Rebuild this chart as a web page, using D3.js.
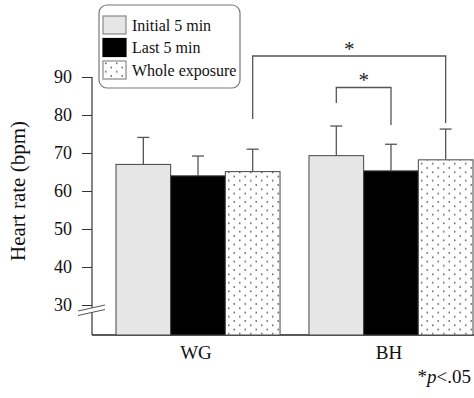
<!DOCTYPE html>
<html>
<head>
<meta charset="utf-8">
<script src="https://cdn.jsdelivr.net/npm/d3@7"></script>
<style>
  body { margin: 0; background: #fff; }
  svg { display: block; }
</style>
</head>
<body>
<svg id="chart" width="474" height="398"></svg>
<script>
// data
var groups = ["WG", "BH"];
var series = ["Initial 5 min", "Last 5 min", "Whole exposure"];
var meanWG = [67.0, 64.0, 65.1];
var meanBH = [69.3, 65.3, 68.2];
var sdWG = [7.1, 5.2, 5.9];
var sdBH = [7.8, 7.0, 8.1];
var yTicks = [30, 40, 50, 60, 70, 80, 90];

var data = [
  { group: "WG", values: meanWG, sd: sdWG },
  { group: "BH", values: meanBH, sd: sdBH }
];

var serif = "Liberation Serif";
var svg = d3.select("#chart").style("font-family", serif);

// pattern for the dotted series
var defs = svg.append("defs");
var pat = defs.append("pattern")
  .attr("id", "dots")
  .attr("patternUnits", "userSpaceOnUse")
  .attr("width", 11).attr("height", 8.5);
pat.append("rect").attr("width", 11).attr("height", 8.5).attr("fill", "#fff");
pat.append("rect").attr("x", 2).attr("y", 1.5).attr("width", 1.5).attr("height", 1.5).attr("fill", "#555");
pat.append("rect").attr("x", 7.5).attr("y", 5.75).attr("width", 1.5).attr("height", 1.5).attr("fill", "#555");

var fills = ["#e6e6e6", "#000", "url(#dots)"];

// scales
var y = d3.scaleLinear().domain([30, 90]).range([305, 77]);
var baseY = 335;
var x = d3.scaleBand().domain(groups).range([116, 473]).paddingInner(0.15).paddingOuter(0);
var xSub = d3.scaleBand().domain(series).range([0, x.bandwidth()]);

// y axis
var axisX = 92;
var yAxis = svg.append("g")
  .attr("transform", "translate(" + axisX + ",0)")
  .call(d3.axisLeft(y).tickValues(yTicks).tickSize(10).tickPadding(10).tickSizeOuter(0));
yAxis.select(".domain").remove();
yAxis.selectAll("line").attr("stroke", "#333");
yAxis.selectAll("text")
  .style("font-family", serif)
  .style("font-size", "18px").attr("fill", "#111");

svg.append("line")
  .attr("x1", axisX).attr("x2", axisX)
  .attr("y1", y(90)).attr("y2", baseY)
  .attr("stroke", "#333").attr("stroke-width", 1.2);

// axis break
svg.append("polygon")
  .attr("points", "78,311 105,305 105,309.5 78,315.5")
  .attr("fill", "#fff");
svg.append("line").attr("x1", 78).attr("y1", 311).attr("x2", 105).attr("y2", 305)
  .attr("stroke", "#555").attr("stroke-width", 1);
svg.append("line").attr("x1", 78).attr("y1", 315.5).attr("x2", 105).attr("y2", 309.5)
  .attr("stroke", "#555").attr("stroke-width", 1);

// baseline
svg.append("line")
  .attr("x1", axisX).attr("x2", 474)
  .attr("y1", baseY).attr("y2", baseY)
  .attr("stroke", "#222").attr("stroke-width", 1.5);

// bars
var gGroups = svg.append("g").selectAll("g")
  .data(data).enter().append("g")
  .attr("transform", function (d) { return "translate(" + x(d.group) + ",0)"; });

var cells = gGroups.selectAll("g")
  .data(function (d) {
    return series.map(function (s, i) { return { key: s, i: i, v: d.values[i], sd: d.sd[i] }; });
  })
  .enter().append("g");

// error bars (drawn behind bars)
cells.append("line")
  .attr("x1", function (d) { return xSub(d.key) + xSub.bandwidth() / 2; })
  .attr("x2", function (d) { return xSub(d.key) + xSub.bandwidth() / 2; })
  .attr("y1", function (d) { return y(d.v); })
  .attr("y2", function (d) { return y(d.v + d.sd); })
  .attr("stroke", "#555").attr("stroke-width", 1.3);
cells.append("line")
  .attr("x1", function (d) { return xSub(d.key) + xSub.bandwidth() / 2 - 6; })
  .attr("x2", function (d) { return xSub(d.key) + xSub.bandwidth() / 2 + 6; })
  .attr("y1", function (d) { return y(d.v + d.sd); })
  .attr("y2", function (d) { return y(d.v + d.sd); })
  .attr("stroke", "#555").attr("stroke-width", 1.3);

cells.append("rect")
  .attr("x", function (d) { return xSub(d.key); })
  .attr("y", function (d) { return y(d.v); })
  .attr("width", xSub.bandwidth())
  .attr("height", function (d) { return baseY - y(d.v); })
  .attr("fill", function (d) { return fills[d.i]; })
  .attr("stroke", "#444").attr("stroke-width", 1);

// x labels
svg.append("g").selectAll("text")
  .data(groups).enter().append("text")
  .attr("x", function (d) { return x(d) + x.bandwidth() / 2 - 2; })
  .attr("y", 359)
  .attr("text-anchor", "middle")
  .style("font-family", serif).style("font-size", "19px").attr("fill", "#111")
  .text(function (d) { return d; });

// y label
svg.append("text")
  .attr("transform", "translate(25,191) rotate(-90)")
  .attr("text-anchor", "middle")
  .style("font-family", serif).style("font-size", "21px").attr("fill", "#111")
  .text("Heart rate (bpm)");

// significance brackets
function cx(g, s) { return x(g) + xSub(s) + xSub.bandwidth() / 2; }
var bracketColor = "#555";
svg.append("path")
  .attr("d", "M" + cx("WG", series[2]) + "," + 119 + "V56H" + cx("BH", series[2]) + "V123")
  .attr("fill", "none").attr("stroke", bracketColor).attr("stroke-width", 1.3);
svg.append("path")
  .attr("d", "M" + cx("BH", series[0]) + "," + 103 + "V87.5H" + cx("BH", series[1]) + "V125")
  .attr("fill", "none").attr("stroke", bracketColor).attr("stroke-width", 1.3);
svg.append("text")
  .attr("x", (cx("WG", series[2]) + cx("BH", series[2])) / 2).attr("y", 56)
  .attr("text-anchor", "middle").style("font-family", serif).style("font-size", "21px")
  .attr("fill", "#222").text("*");
svg.append("text")
  .attr("x", (cx("BH", series[0]) + cx("BH", series[1])) / 2).attr("y", 87)
  .attr("text-anchor", "middle").style("font-family", serif).style("font-size", "21px")
  .attr("fill", "#222").text("*");

// legend
var legend = svg.append("g");
legend.append("rect")
  .attr("x", 99).attr("y", 5).attr("width", 141).attr("height", 83)
  .attr("rx", 8).attr("ry", 8)
  .attr("fill", "#fff").attr("stroke", "#777").attr("stroke-width", 1.2);
var leg = legend.selectAll("g.item")
  .data(series).enter().append("g").attr("class", "item")
  .attr("transform", function (d, i) { return "translate(103," + (16 + i * 22.5) + ")"; });
leg.append("rect")
  .attr("width", 23).attr("height", 18)
  .attr("fill", function (d, i) { return fills[i]; })
  .attr("stroke", function (d, i) { return i === 1 ? "#000" : "#888"; })
  .attr("stroke-width", 1.2);
leg.append("text")
  .attr("x", 29).attr("y", 14.5)
  .style("font-family", serif).style("font-size", "16px").attr("fill", "#111")
  .text(function (d) { return d; });

// footnote
var foot = svg.append("text")
  .attr("x", 471).attr("y", 383)
  .attr("text-anchor", "end")
  .style("font-family", serif).style("font-size", "19px").attr("fill", "#111");
foot.append("tspan").text("*");
foot.append("tspan").style("font-style", "italic").text("p");
foot.append("tspan").text("<.05");
</script>
</body>
</html>
